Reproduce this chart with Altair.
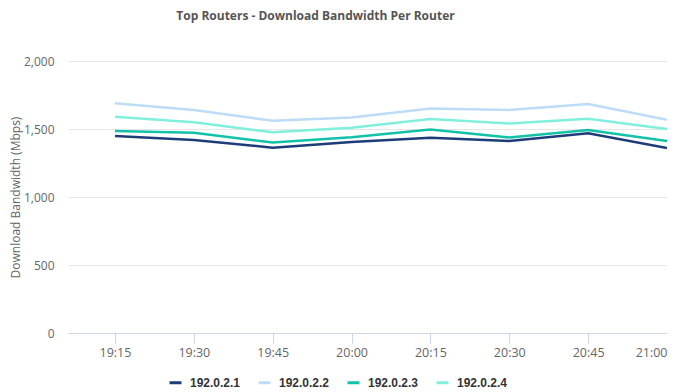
import altair as alt
import pandas as pd

times = ["19:15", "19:30", "19:45", "20:00", "20:15", "20:30", "20:45", "21:00"]
routers = ["192.0.2.1", "192.0.2.2", "192.0.2.3", "192.0.2.4"]
r1 = [1449, 1419, 1363, 1405, 1436, 1412, 1468, 1361]
r2 = [1689, 1640, 1561, 1585, 1651, 1639, 1683, 1568]
r3 = [1485, 1473, 1400, 1440, 1497, 1438, 1492, 1411]
r4 = [1590, 1549, 1476, 1510, 1573, 1541, 1575, 1500]
colors = ["#1d3c78", "#bcdcf7", "#12c2a8", "#80f0dc"]

rows = []
for name, vals in zip(routers, [r1, r2, r3, r4]):
    for t, v in zip(times, vals):
        rows.append({"time": f"2024-01-01T{t}:00", "router": name, "value": v})
df = pd.DataFrame(rows)

def dt(h, m, s=0):
    return alt.DateTime(year=2024, month=1, date=1, hours=h, minutes=m, seconds=s)

x_dom = [dt(19, 6, 4), dt(21, 0, 0)]
x_ticks = [dt(int(t[:2]), int(t[3:])) for t in times]

chart = alt.Chart(df).mark_line(strokeWidth=2.5).encode(
    x=alt.X("time:T",
            scale=alt.Scale(domain=x_dom),
            axis=alt.Axis(title=None, format="%H:%M", values=x_ticks,
                          grid=False, domainColor="#ccd6eb", tickColor="#ccd6eb",
                          tickSize=10, labelPadding=3, labelColor="#666666",
                          labelFont="Open Sans", labelFontSize=12.5,
                          labelFlush=True, labelOverlap=False)),
    y=alt.Y("value:Q",
            scale=alt.Scale(domain=[0, 2000], nice=False),
            axis=alt.Axis(title="Download Bandwidth (Mbps)", values=[0, 500, 1000, 1500, 2000],
                          format=",d", domain=False, ticks=False, gridColor="#e6e6e6",
                          labelPadding=14, labelColor="#666666", labelFont="Open Sans",
                          labelFontSize=12, titleColor="#666666", titleFont="Open Sans",
                          titleFontSize=12, titleFontWeight="normal", titlePadding=1)),
    color=alt.Color("router:N",
                    scale=alt.Scale(domain=routers, range=colors),
                    legend=alt.Legend(title=None, orient="none", direction="horizontal",
                                      legendX=100, legendY=314,
                                      symbolType="stroke", symbolStrokeWidth=3,
                                      symbolSize=144, labelFont="Liberation Sans",
                                      labelFontSize=12, labelFontWeight="bold",
                                      labelColor="#333333", columnPadding=11,
                                      labelOffset=7)),
).properties(
    width=599, height=272,
    padding={"left": 60, "top": 53, "right": 0, "bottom": 59},
    autosize=alt.AutoSizeParams(type="none"),
    title=alt.TitleParams("Top Routers - Download Bandwidth Per Router", font="Open Sans",
                          fontSize=12, fontWeight="bold", color="#555555",
                          anchor="middle", dx=-52, offset=32),
).configure_view(stroke=None)

chart.save("out.html", embed_options={"renderer": "svg", "actions": False})
